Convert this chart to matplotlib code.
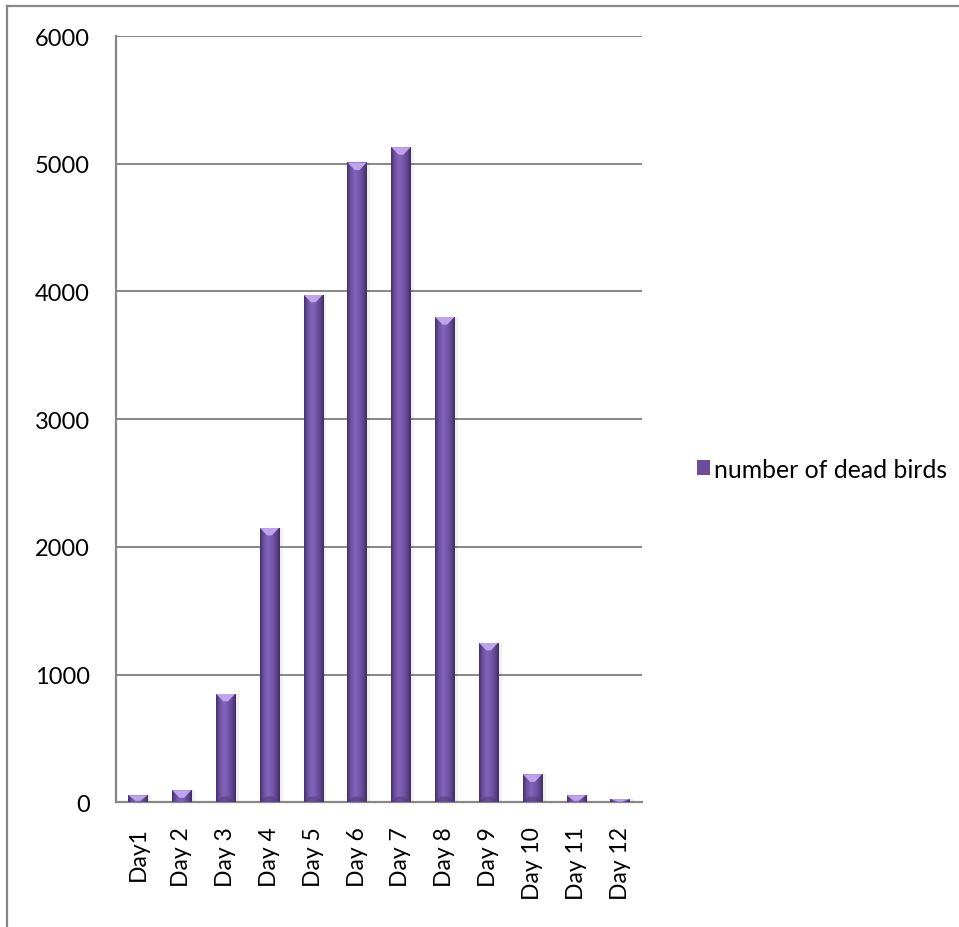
import numpy as np
import matplotlib
matplotlib.use("Agg")
import matplotlib.pyplot as plt
from matplotlib.colors import LinearSegmentedColormap
from matplotlib.patches import Polygon, Rectangle
from matplotlib.lines import Line2D

# data: dead birds counted per day
days = ["Day1", "Day 2", "Day 3", "Day 4", "Day 5", "Day 6",
        "Day 7", "Day 8", "Day 9", "Day 10", "Day 11", "Day 12"]
dead_birds = [55, 95, 850, 2150, 3975, 5010, 5130, 3800, 1250, 220, 55, 25]
y_ticks = [0, 1000, 2000, 3000, 4000, 5000, 6000]
series_name = "number of dead birds"

plt.rcParams['font.family'] = ['Lato', 'DejaVu Sans']

grid_grey = "#878787"
bar_purple = "#6a4e9b"
bevel_light = "#bfa3ec"
bevel_dark = "#4e3a78"

fig = plt.figure(figsize=(9.59, 9.28), dpi=100)
ax = fig.add_axes([0.121, 0.1344, 0.5485, 0.8257])

x = np.arange(len(days))
width = 0.44
bars = ax.bar(x, dead_birds, width=width, color=bar_purple, zorder=3,
              label=series_name)

# horizontal shading so the bars look rounded (dark edges, lighter middle)
shade = LinearSegmentedColormap.from_list(
    "bar_shade", ["#433068", "#7053a6", "#8365ba", "#7659ab", "#624794", "#402e62"])
grad = np.linspace(0, 1, 64).reshape(1, -1)

for rect, val in zip(bars, dead_birds):
    x0 = rect.get_x()
    w = rect.get_width()
    # soft shadow to the right of each bar
    ax.add_patch(Rectangle((x0 + w, 0), w * 0.18, val, color="#000000",
                           alpha=0.06, lw=0, zorder=2))
    img = ax.imshow(grad, cmap=shade, extent=[x0, x0 + w, 0, val],
                    aspect="auto", zorder=4, interpolation="bicubic")
    img.set_clip_path(rect)
    # light bevel on top of the bar
    bev = min(60, val * 0.8)
    top = Polygon([[x0, val], [x0 + w, val], [x0 + w * 0.62, val - bev],
                   [x0 + w * 0.38, val - bev]], closed=True,
                  color=bevel_light, lw=0, zorder=5)
    ax.add_patch(top)
    top.set_clip_path(rect)
    # darker bevel at the base
    if val > 200:
        base = Polygon([[x0, 0], [x0 + w, 0], [x0 + w * 0.7, 45],
                        [x0 + w * 0.3, 45]], closed=True,
                       color=bevel_dark, alpha=0.5, lw=0, zorder=5)
        ax.add_patch(base)
        base.set_clip_path(rect)

ax.set_xlim(-0.5, len(days) - 0.5)
ax.set_ylim(0, 6000)
ax.set_yticks(y_ticks)
ax.set_yticklabels([str(t) for t in y_ticks])
ax.set_xticks(x)
ax.set_xticklabels(days, rotation=90, ha="center", va="top")

ax.yaxis.grid(True, color=grid_grey, lw=1.4, zorder=1)
ax.set_axisbelow(True)
for side in ["top", "right"]:
    ax.spines[side].set_visible(False)
for side in ["left", "bottom"]:
    ax.spines[side].set_color(grid_grey)
    ax.spines[side].set_linewidth(1.6)
ax.tick_params(axis="y", length=0, pad=19, labelsize=17, colors="black")
ax.tick_params(axis="x", length=0, pad=17, labelsize=16.5, colors="black")

leg = ax.legend(loc="center left", bbox_to_anchor=(0.716, 0.4935),
                bbox_transform=fig.transFigure, frameon=False,
                handlelength=0.55, handleheight=0.55, handletextpad=0.15,
                fontsize=17.8, borderaxespad=0)

# outer chart frame (left and top edges)
fig.add_artist(Line2D([0.0078, 0.0078], [0.0, 0.9925], color=grid_grey,
                      lw=1.6, transform=fig.transFigure))
fig.add_artist(Line2D([0.0078, 1.0], [0.9925, 0.9925], color=grid_grey,
                      lw=1.6, transform=fig.transFigure))

fig.savefig("out.png", dpi=100)
